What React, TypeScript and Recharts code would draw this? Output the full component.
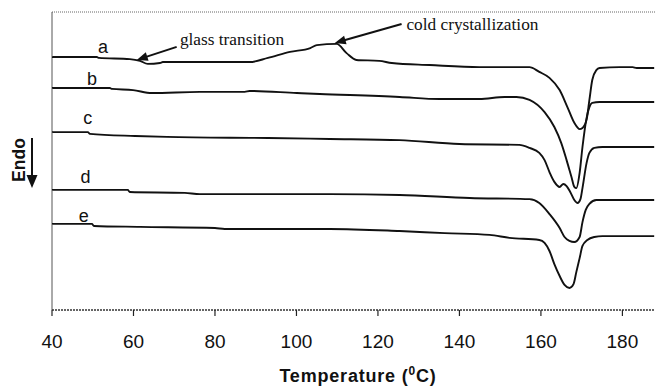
import React from 'react';
import { LineChart, Line, XAxis, YAxis, ReferenceLine, ReferenceDot } from 'recharts';

// Temperature (°C) vs heat flow (arbitrary units, offset curves)
const xTicks = [40, 60, 80, 100, 120, 140, 160, 180];

const curveA: [number, number][] = [
  [40, 8.49], [51.0, 8.49], [51.5, 8.46], [59.1, 8.42], [61.6, 8.36], [63.5, 8.26], [66.5, 8.29],
  [67.2, 8.32], [88.5, 8.32], [93.0, 8.46], [98.4, 8.66], [103.4, 8.79], [105.0, 8.89], [109.9, 8.93],
  [112.3, 8.62], [114.7, 8.39], [120.3, 8.36], [123.4, 8.29], [132.7, 8.22], [144.9, 8.15], [152.3, 8.15],
  [157.2, 8.15], [159.6, 7.99], [162.1, 7.79], [164.6, 7.38], [166.5, 6.81], [168.2, 6.28], [169.5, 6.07],
  [170.2, 6.11], [171.2, 6.38], [171.9, 7.05], [172.6, 7.72], [173.6, 8.05], [174.4, 8.12], [179.3, 8.15],
  [182.5, 8.15], [183.5, 8.12], [187.8, 8.12],
];

const curveB: [number, number][] = [
  [40, 7.45], [54.2, 7.45], [54.7, 7.42], [59.9, 7.38], [64.5, 7.28], [76.3, 7.32], [87.3, 7.32],
  [88.5, 7.35], [100.1, 7.28], [105.7, 7.25], [125.3, 7.15], [135.1, 7.08], [144.9, 7.08], [151.1, 7.15],
  [154.0, 7.15], [157.2, 7.05], [160.9, 6.64], [163.3, 6.14], [165.0, 5.60], [166.3, 5.03], [167.5, 4.46],
  [168.2, 4.13], [168.7, 4.09], [169.5, 4.60], [170.2, 5.47], [171.2, 6.44], [171.9, 6.81], [172.6, 6.95],
  [174.4, 6.98], [187.8, 6.98],
];

const curveC: [number, number][] = [
  [40, 5.97], [48.8, 5.97], [49.3, 5.91], [60.4, 5.84], [68.2, 5.81], [93.0, 5.77], [108.2, 5.74],
  [125.3, 5.70], [140.0, 5.57], [154.7, 5.54], [157.2, 5.44], [159.6, 5.27], [160.9, 5.03], [162.1, 4.63],
  [163.3, 4.30], [164.6, 4.13], [165.5, 4.23], [166.3, 4.16], [167.2, 3.96], [168.2, 3.69], [169.0, 3.59],
  [169.7, 3.72], [170.2, 4.09], [171.2, 4.93], [171.9, 5.27], [173.1, 5.44], [175.1, 5.47], [187.8, 5.47],
];

const curveD: [number, number][] = [
  [40, 4.03], [58.6, 4.03], [59.1, 3.96], [72.6, 3.93], [76.3, 3.89], [108.2, 3.89], [125.3, 3.86],
  [142.5, 3.76], [157.2, 3.72], [159.6, 3.59], [162.1, 3.22], [164.6, 2.75], [165.8, 2.45], [167.0, 2.32],
  [168.2, 2.28], [169.5, 2.45], [170.2, 2.95], [171.0, 3.36], [171.9, 3.56], [173.6, 3.69], [176.8, 3.69],
  [187.8, 3.69],
];

const curveE: [number, number][] = [
  [40, 2.89], [49.8, 2.89], [50.3, 2.82], [61.6, 2.79], [80.0, 2.75], [82.4, 2.72], [108.2, 2.72],
  [125.3, 2.65], [136.4, 2.58], [147.4, 2.52], [152.3, 2.42], [159.6, 2.35], [160.9, 2.25], [162.1, 1.98],
  [163.3, 1.54], [164.6, 1.14], [165.8, 0.84], [167.0, 0.74], [168.0, 0.87], [168.7, 1.28], [169.5, 1.74],
  [170.2, 2.15], [171.4, 2.35], [173.1, 2.45], [175.1, 2.48], [187.8, 2.48],
];

const curveNames = ['a', 'b', 'c', 'd', 'e'];
const curveLabelAt: [number, number][] = [[52.5, 8.62], [49.8, 7.55], [48.8, 6.24], [48.2, 4.26], [47.8, 2.95]];

const glassText = 'glass transition';
const glassTextAt: [number, number] = [71.4, 8.88];
const glassArrow: [number, number][] = [[70.6, 8.83], [60.8, 8.39]];

const coldText = 'cold crystallization';
const coldTextAt: [number, number] = [127.0, 9.4];
const coldArrow: [number, number][] = [[125.8, 9.6], [109.4, 8.96]];

const curves = [curveA, curveB, curveC, curveD, curveE].map((c) => c.map(([t, q]) => ({ t, q })));

const SANS = "'Liberation Sans', Arial, Helvetica, sans-serif";
const SERIF = "'Liberation Serif', 'Times New Roman', serif";

const makeLabel = (text: string) => (p: any) => (
  <text x={p.cx} y={p.cy} textAnchor="middle" fontFamily={SANS} fontSize={18} fill="#111">{text}</text>
);

const makeNote = (text: string) => (p: any) => (
  <text x={p.cx} y={p.cy} textAnchor="start" fontFamily={SERIF} fontSize={17.3} fill="#111">{text}</text>
);

const arrowShape = (p: any) => {
  const { x1, y1, x2, y2 } = p;
  if ([x1, y1, x2, y2].some((v) => typeof v !== 'number' || isNaN(v))) return <g />;
  const dx = x2 - x1;
  const dy = y2 - y1;
  const len = Math.sqrt(dx * dx + dy * dy) || 1;
  const ux = dx / len;
  const uy = dy / len;
  const hl = 11;
  const hw = 4.5;
  const bx = x2 - ux * hl;
  const by = y2 - uy * hl;
  const pts = `${x2},${y2} ${bx - uy * hw},${by + ux * hw} ${bx + uy * hw},${by - ux * hw}`;
  return (
    <g>
      <line x1={x1} y1={y1} x2={bx + ux * 2} y2={by + uy * 2} stroke="#111" strokeWidth={2} />
      <polygon points={pts} fill="#111" />
    </g>
  );
};

const xTitle = (props: any) => {
  const vb = props.viewBox || { x: 52, y: 310, width: 603, height: 77 };
  return (
    <text x={vb.x + 306} y={vb.y + 72} textAnchor="middle" fontFamily={SANS} fontWeight="bold" fontSize={18} letterSpacing={0.8} fill="#111">
      Temperature (<tspan dy={-7} fontSize={12}>0</tspan><tspan dy={7}>C)</tspan>
    </text>
  );
};

const yTitle = (props: any) => {
  const vb = props.viewBox || { x: 51, y: 12, width: 1, height: 298 };
  const left = vb.x + (vb.width || 0);
  const bx = left - 27;
  const cy = vb.y + 148;
  const ax = left - 20;
  return (
    <g>
      <text x={bx} y={cy} transform={`rotate(-90, ${bx}, ${cy})`} textAnchor="middle" fontFamily={SANS} fontWeight="bold" fontSize={17.5} fill="#111">
        Endo
      </text>
      <line x1={ax} y1={vb.y + 126} x2={ax} y2={vb.y + 165} stroke="#111" strokeWidth={2} />
      <polygon points={`${ax - 5.5},${vb.y + 163} ${ax + 5.5},${vb.y + 163} ${ax},${vb.y + 176}`} fill="#111" />
    </g>
  );
};

export default function App() {
  return (
    <div style={{ position: 'absolute', left: 0, top: 0, background: '#fff' }}>
      <LineChart width={655} height={387} margin={{ top: 12, right: 0, bottom: 0, left: 51 }}>
        <XAxis
          dataKey="t"
          type="number"
          domain={[40, 188]}
          ticks={xTicks}
          allowDataOverflow
          height={77}
          tickSize={6}
          tickMargin={19}
          axisLine={{ stroke: '#333', strokeWidth: 1.3, strokeDasharray: '2 1' }}
          tickLine={{ stroke: '#222', strokeWidth: 1.2 }}
          tick={{ fontSize: 19, fill: '#111', fontFamily: SANS }}
          label={xTitle}
        />
        <YAxis
          type="number"
          domain={[0, 10]}
          width={1}
          tick={false}
          tickLine={false}
          axisLine={{ stroke: '#555', strokeWidth: 1, strokeDasharray: '1 1' }}
          label={yTitle}
        />
        <ReferenceLine y={10} stroke="#666" strokeWidth={1} strokeDasharray="1 1" />
        <ReferenceLine x={40} stroke="#555" strokeWidth={1} strokeDasharray="1 1" />
        {curves.map((data, i) => (
          <Line
            key={curveNames[i]}
            data={data}
            dataKey="q"
            type="monotone"
            stroke="#111"
            strokeWidth={1.9}
            dot={false}
            activeDot={false}
            isAnimationActive={false}
          />
        ))}
        {curveNames.map((n, i) => (
          <ReferenceDot key={'lbl' + n} x={curveLabelAt[i][0]} y={curveLabelAt[i][1]} r={0} shape={makeLabel(n)} />
        ))}
        <ReferenceDot x={glassTextAt[0]} y={glassTextAt[1]} r={0} shape={makeNote(glassText)} />
        <ReferenceDot x={coldTextAt[0]} y={coldTextAt[1]} r={0} shape={makeNote(coldText)} />
        <ReferenceLine
          segment={[{ x: glassArrow[0][0], y: glassArrow[0][1] }, { x: glassArrow[1][0], y: glassArrow[1][1] }]}
          shape={arrowShape}
        />
        <ReferenceLine
          segment={[{ x: coldArrow[0][0], y: coldArrow[0][1] }, { x: coldArrow[1][0], y: coldArrow[1][1] }]}
          shape={arrowShape}
        />
      </LineChart>
    </div>
  );
}
